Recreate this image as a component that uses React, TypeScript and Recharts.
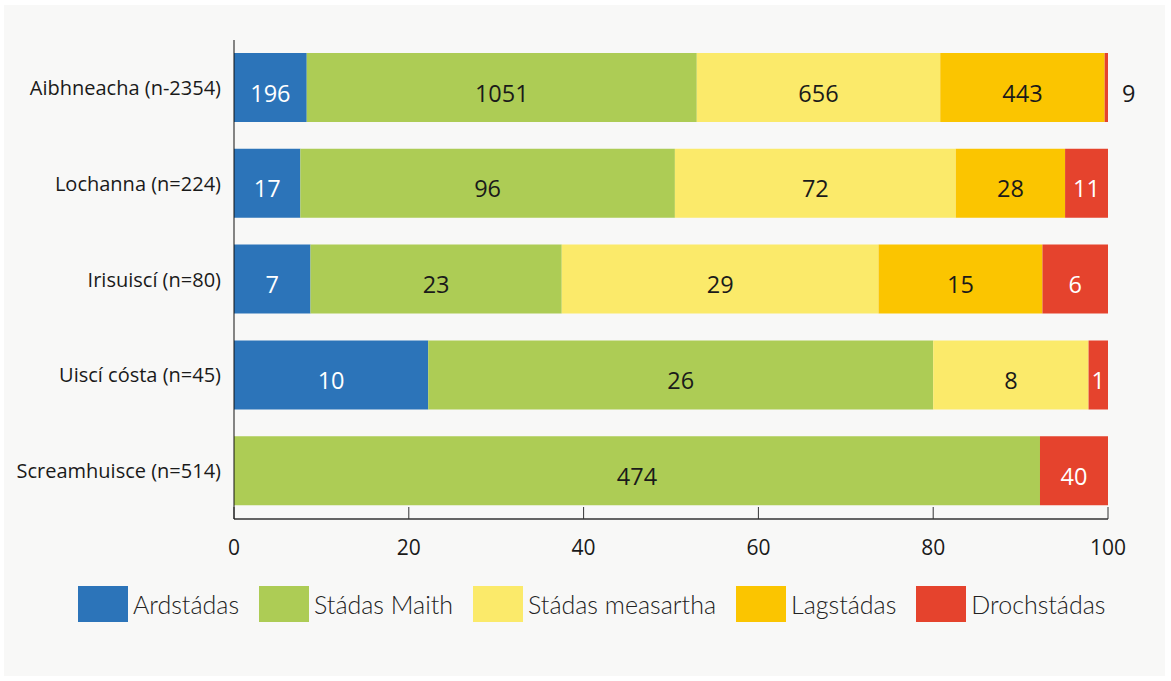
import React from "react";
import { BarChart, Bar, XAxis, YAxis, Legend, LabelList } from "recharts";

const categories = [
  "Aibhneacha (n-2354)",
  "Lochanna (n=224)",
  "Irisuiscí (n=80)",
  "Uiscí cósta (n=45)",
  "Screamhuisce (n=514)",
];
const ardstadas = [196, 17, 7, 10, 0];
const stadasMaith = [1051, 96, 23, 26, 474];
const stadasMeasartha = [656, 72, 29, 8, 0];
const lagstadas = [443, 28, 15, 0, 0];
const drochstadas = [9, 11, 6, 1, 40];
const xTicks = [0, 0.2, 0.4, 0.6, 0.8, 1];

const series = [
  { key: "ard", name: "Ardstádas", values: ardstadas, color: "#2c74b9", text: "#ffffff" },
  { key: "maith", name: "Stádas Maith", values: stadasMaith, color: "#adcc55", text: "#1a1a1a" },
  { key: "meas", name: "Stádas measartha", values: stadasMeasartha, color: "#fbea6a", text: "#1a1a1a" },
  { key: "lag", name: "Lagstádas", values: lagstadas, color: "#fbc500", text: "#1a1a1a" },
  { key: "droch", name: "Drochstádas", values: drochstadas, color: "#e5432d", text: "#ffffff" },
];

const data = categories.map((name, i) => {
  const row: any = { name };
  series.forEach((s) => (row[s.key] = s.values[i]));
  return row;
});

const labelFont = "'Open Sans', 'Noto Sans', sans-serif";

// values sit in the middle of each segment; a sliver too thin gets its number outside
const makeLabel = (s: any) => (props: any) => {
  const { x, y, width, height, index } = props;
  const v = s.values[index];
  if (!v) return null;
  const outside = width < 10;
  return (
    <text
      x={outside ? x + width + 14 : x + width / 2}
      y={y + height / 2 + 5}
      fill={outside ? "#1a1a1a" : s.text}
      textAnchor={outside ? "start" : "middle"}
      dominantBaseline="central"
      fontSize={23.5}
      fontFamily={labelFont}
    >
      {v}
    </text>
  );
};

const renderLegend = () => (
  <div style={{ display: "flex", alignItems: "center", height: 36, paddingLeft: 78, whiteSpace: "nowrap" }}>
    {series.map((s) => (
      <div key={s.key} style={{ display: "flex", alignItems: "center", marginRight: 20, flexShrink: 0 }}>
        <div style={{ width: 50, height: 36, background: s.color }} />
        <span
          style={{
            marginLeft: 5,
            fontFamily: "Lato, sans-serif",
            fontWeight: 300,
            fontSize: 25,
            color: "#222",
          }}
        >
          {s.name}
        </span>
      </div>
    ))}
  </div>
);

export default function App() {
  return (
    <div style={{ position: "absolute", left: 0, top: 0, width: 1171, height: 681, background: "#ffffff" }}>
      <div
        style={{ position: "absolute", left: 4, top: 5, width: 1161, height: 671, background: "#f8f8f7" }}
      />
      <div style={{ position: "absolute", left: 0, top: 0 }}>
        <BarChart
          width={1171}
          height={681}
          data={data}
          layout="vertical"
          stackOffset="expand"
          margin={{ top: 40, right: 63, bottom: 86, left: 0 }}
        >
          <XAxis
            type="number"
            domain={[0, 1]}
            ticks={xTicks}
            tickFormatter={(v: number) => String(Math.round(v * 100))}
            axisLine={{ stroke: "#333", strokeWidth: 1.5 }}
            tickLine={{ stroke: "#333" }}
            tickSize={-12}
            tickMargin={33}
            height={40}
            tick={{ fill: "#1a1a1a", fontSize: 21, fontFamily: labelFont }}
          />
          <YAxis
            type="category"
            dataKey="name"
            width={234}
            axisLine={{ stroke: "#111" }}
            tickLine={false}
            tickSize={0}
            tickMargin={13}
            tick={{ fill: "#1a1a1a", fontSize: 20, fontFamily: labelFont }}
          />
          <Legend
            verticalAlign="bottom"
            content={renderLegend}
            wrapperStyle={{ top: 586, left: 0, width: 1171, height: 36 }}
          />
          {series.map((s) => (
            <Bar
              key={s.key}
              dataKey={s.key}
              name={s.name}
              stackId="a"
              fill={s.color}
              barSize={69}
              isAnimationActive={false}
            >
              <LabelList dataKey={s.key} content={makeLabel(s)} />
            </Bar>
          ))}
        </BarChart>
      </div>
    </div>
  );
}
